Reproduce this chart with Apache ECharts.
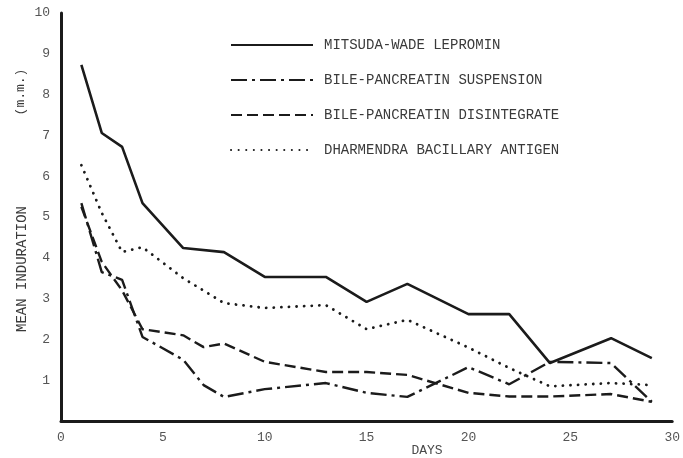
<!DOCTYPE html>
<html>
<head>
<meta charset="utf-8">
<title>Mean induration by day</title>
<script src="https://cdn.jsdelivr.net/npm/echarts@6/dist/echarts.min.js"></script>
<style>
  html, body { margin: 0; padding: 0; background: #ffffff; }
  #chart { width: 683px; height: 458px; }
</style>
</head>
<body>
<div id="chart"></div>
<script>
// Days after injection at which induration was read, per antigen
const daysMitsuda = [1, 2, 3, 4, 6, 8, 10, 13, 15, 17, 20, 22, 24, 27, 29];
const mitsudaWade = [8.73, 7.06, 6.72, 5.34, 4.24, 4.14, 3.53, 3.53, 2.92, 3.36, 2.62, 2.62, 1.42, 2.03, 1.54];

const daysSuspension = [1, 2, 3, 4, 6, 7, 8, 10, 13, 15, 17, 20, 22, 24, 27, 29];
const bileSuspension = [5.34, 3.65, 3.46, 2.06, 1.5, 0.88, 0.59, 0.78, 0.93, 0.69, 0.59, 1.32, 0.9, 1.45, 1.42, 0.47];

const daysDisintegrate = [1, 2, 3, 4, 6, 7, 8, 10, 13, 15, 17, 20, 22, 24, 27, 29];
const bileDisintegrate = [5.25, 3.9, 3.2, 2.25, 2.1, 1.81, 1.9, 1.45, 1.2, 1.2, 1.13, 0.69, 0.6, 0.6, 0.66, 0.47];

const daysDharmendra = [1, 2, 3, 4, 6, 8, 10, 13, 15, 17, 20, 22, 24, 27, 29];
const dharmendra = [6.27, 5.1, 4.14, 4.26, 3.5, 2.89, 2.77, 2.84, 2.25, 2.48, 1.8, 1.3, 0.85, 0.93, 0.88];

const seriesNames = [
  'MITSUDA-WADE LEPROMIN',
  'BILE-PANCREATIN SUSPENSION',
  'BILE-PANCREATIN DISINTEGRATE',
  'DHARMENDRA BACILLARY ANTIGEN'
];

const pair = (xs, ys) => xs.map((d, i) => [d, ys[i]]);

const ink = '#1b1b1b';
const typeFont = '"Liberation Mono", "DejaVu Sans Mono", monospace';

const chart = echarts.init(document.getElementById('chart'), null, { renderer: 'canvas' });

function lineSeries(name, data, width, dash, cap) {
  return {
    name: name,
    type: 'line',
    data: data,
    symbol: 'none',
    showSymbol: false,
    smooth: false,
    lineStyle: { color: ink, width: width, type: dash, cap: cap || 'butt' },
    itemStyle: { color: ink }
  };
}

chart.setOption({
  backgroundColor: '#ffffff',
  animation: false,
  grid: { left: 61, right: 6, top: 13, bottom: 37 },
  xAxis: {
    type: 'value',
    min: 0,
    max: 30,
    interval: 5,
    axisLine: { show: true, lineStyle: { color: ink, width: 3 } },
    axisTick: { show: false },
    splitLine: { show: false },
    axisLabel: { color: '#555555', fontFamily: typeFont, fontSize: 13, margin: 10 }
  },
  yAxis: {
    type: 'value',
    min: 0,
    max: 10,
    interval: 1,
    axisLine: { show: true, onZero: false, lineStyle: { color: ink, width: 3 } },
    axisTick: { show: false },
    splitLine: { show: false },
    axisLabel: {
      color: '#555555', fontFamily: typeFont, fontSize: 13, margin: 11,
      padding: [6, 0, 0, 0],
      formatter: v => (v === 0 ? '' : String(v))
    }
  },
  legend: {
    orient: 'vertical',
    left: 225,
    top: 33,
    itemWidth: 82,
    itemHeight: 14,
    itemGap: 21,
    selectedMode: false,
    itemStyle: { opacity: 0, borderWidth: 0 },
    textStyle: { color: '#3a3a3a', fontFamily: typeFont, fontSize: 14, padding: [0, 0, 0, 6] },
    data: seriesNames
  },
  graphic: [
    {
      type: 'text',
      x: 21, y: 92,
      rotation: Math.PI / 2,
      style: {
        text: '(m.m.)', fill: '#3a3a3a', font: '13px ' + typeFont,
        align: 'center', verticalAlign: 'middle'
      }
    },
    {
      type: 'text',
      x: 22, y: 269,
      rotation: Math.PI / 2,
      style: {
        text: 'MEAN INDURATION', fill: '#3a3a3a', font: '14px ' + typeFont,
        align: 'center', verticalAlign: 'middle'
      }
    },
    {
      type: 'text',
      x: 427, y: 451,
      style: {
        text: 'DAYS', fill: '#4a4a4a', font: '13px ' + typeFont,
        align: 'center', verticalAlign: 'middle'
      }
    }
  ],
  series: [
    lineSeries(seriesNames[0], pair(daysMitsuda, mitsudaWade), 2.6, 'solid'),
    lineSeries(seriesNames[1], pair(daysSuspension, bileSuspension), 2.4, [16, 5, 3, 5]),
    lineSeries(seriesNames[2], pair(daysDisintegrate, bileDisintegrate), 2.4, [11, 5]),
    lineSeries(seriesNames[3], pair(daysDharmendra, dharmendra), 2.8, [0.1, 7.5], 'round')
  ]
});
</script>
</body>
</html>
